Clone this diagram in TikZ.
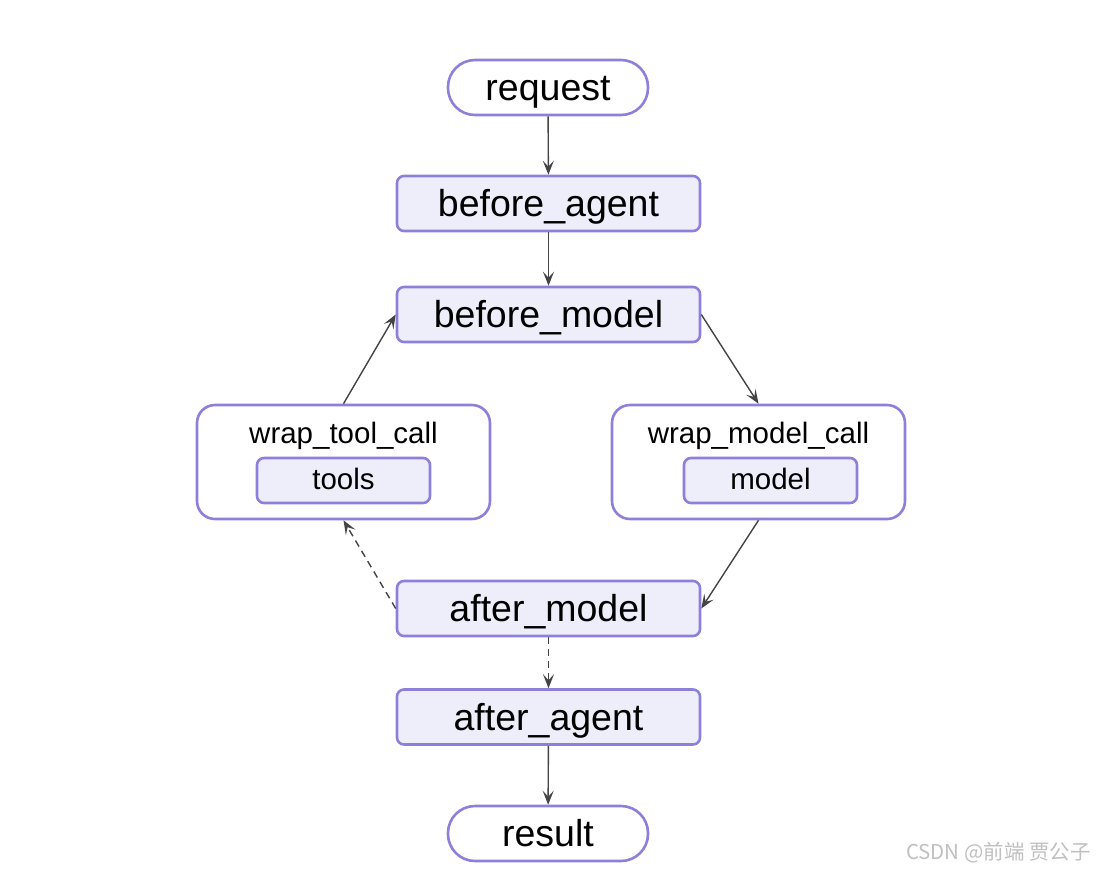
\documentclass[tikz,border=0pt]{standalone}
\usepackage{fontspec}
\setmainfont{Liberation Sans}
\newfontfamily\cjk{Noto Sans CJK SC}
\usetikzlibrary{arrows.meta}
\definecolor{bordc}{HTML}{8E80DA}
\definecolor{fillc}{HTML}{EEEEFA}
\definecolor{linec}{HTML}{444444}
\definecolor{wmc}{HTML}{C0C0C0}
\tikzset{
  stadium/.style={draw=bordc, line width=2.6pt, fill=white, rounded corners=27pt,
    minimum width=200pt, minimum height=55pt, inner sep=0pt,
    font=\fontsize{37.5}{40}\selectfont, text height=26pt, text depth=0pt},
  stepbox/.style={draw=bordc, line width=2.6pt, fill=fillc, rounded corners=7pt,
    minimum width=303pt, minimum height=55pt, inner sep=0pt,
    font=\fontsize{37.5}{40}\selectfont, text height=26pt, text depth=0pt},
  outerbox/.style={draw=bordc, line width=2.6pt, fill=white, rounded corners=18pt,
    minimum width=293pt, minimum height=114pt, inner sep=0pt},
  innerbox/.style={draw=bordc, line width=2.6pt, fill=fillc, rounded corners=7pt,
    minimum width=173pt, minimum height=45pt, inner sep=0pt,
    font=\fontsize{29.5}{32}\selectfont, text height=17pt, text depth=0pt},
  wraplabel/.style={inner sep=0pt, font=\fontsize{29.5}{32}\selectfont, text height=20pt, text depth=0pt},
  conn/.style={draw=linec, line width=1.4pt, -{Stealth[length=14pt,width=11pt,inset=6pt]}},
  dconn/.style={conn, dash pattern=on 7pt off 5pt},
}
\begin{document}
\begin{tikzpicture}[x=1pt,y=-1pt]
\useasboundingbox (0,0) rectangle (1096,871);
\fill[white] (0,0) rectangle (1096,871);

\node[stadium] (request) at (548,87.5) {request};
\node[stepbox] (beforeagent) at (548.5,203.5) {before\_agent};
\node[stepbox] (beforemodel) at (548.5,314.5) {before\_model};

\node[outerbox] (wraptool) at (343.5,462) {};
\node[wraplabel] (wraptoollabel) at (343.5,433) {wrap\_tool\_call};
\node[innerbox] (tools) at (343.5,480.5) {tools};

\node[outerbox] (wrapmodel) at (758.5,462) {};
\node[wraplabel] (wrapmodellabel) at (758.5,433) {wrap\_model\_call};
\node[innerbox] (model) at (770.5,480.5) {model};

\node[stepbox] (aftermodel) at (548.5,608.5) {after\_model};
\node[stepbox] (afteragent) at (548.5,717) {after\_agent};
\node[stadium] (result) at (548,833.5) {result};

\node[anchor=east, inner sep=0pt, text=wmc, font=\cjk\fontsize{20.5}{23}\selectfont] (wm) at (1091,853) {CSDN @前端 贾公子};

\draw[conn] (request) -- (beforeagent);
\draw[conn] (beforeagent) -- (beforemodel);
\draw[conn] (beforemodel.east) -- (wrapmodel.north);
\draw[conn] (wrapmodel.south) -- (aftermodel.east);
\draw[dconn] (aftermodel.west) -- (wraptool.south);
\draw[conn] (wraptool.north) -- (beforemodel.west);
\draw[dconn] (aftermodel) -- (afteragent);
\draw[conn] (afteragent) -- (result);
\end{tikzpicture}
\end{document}
